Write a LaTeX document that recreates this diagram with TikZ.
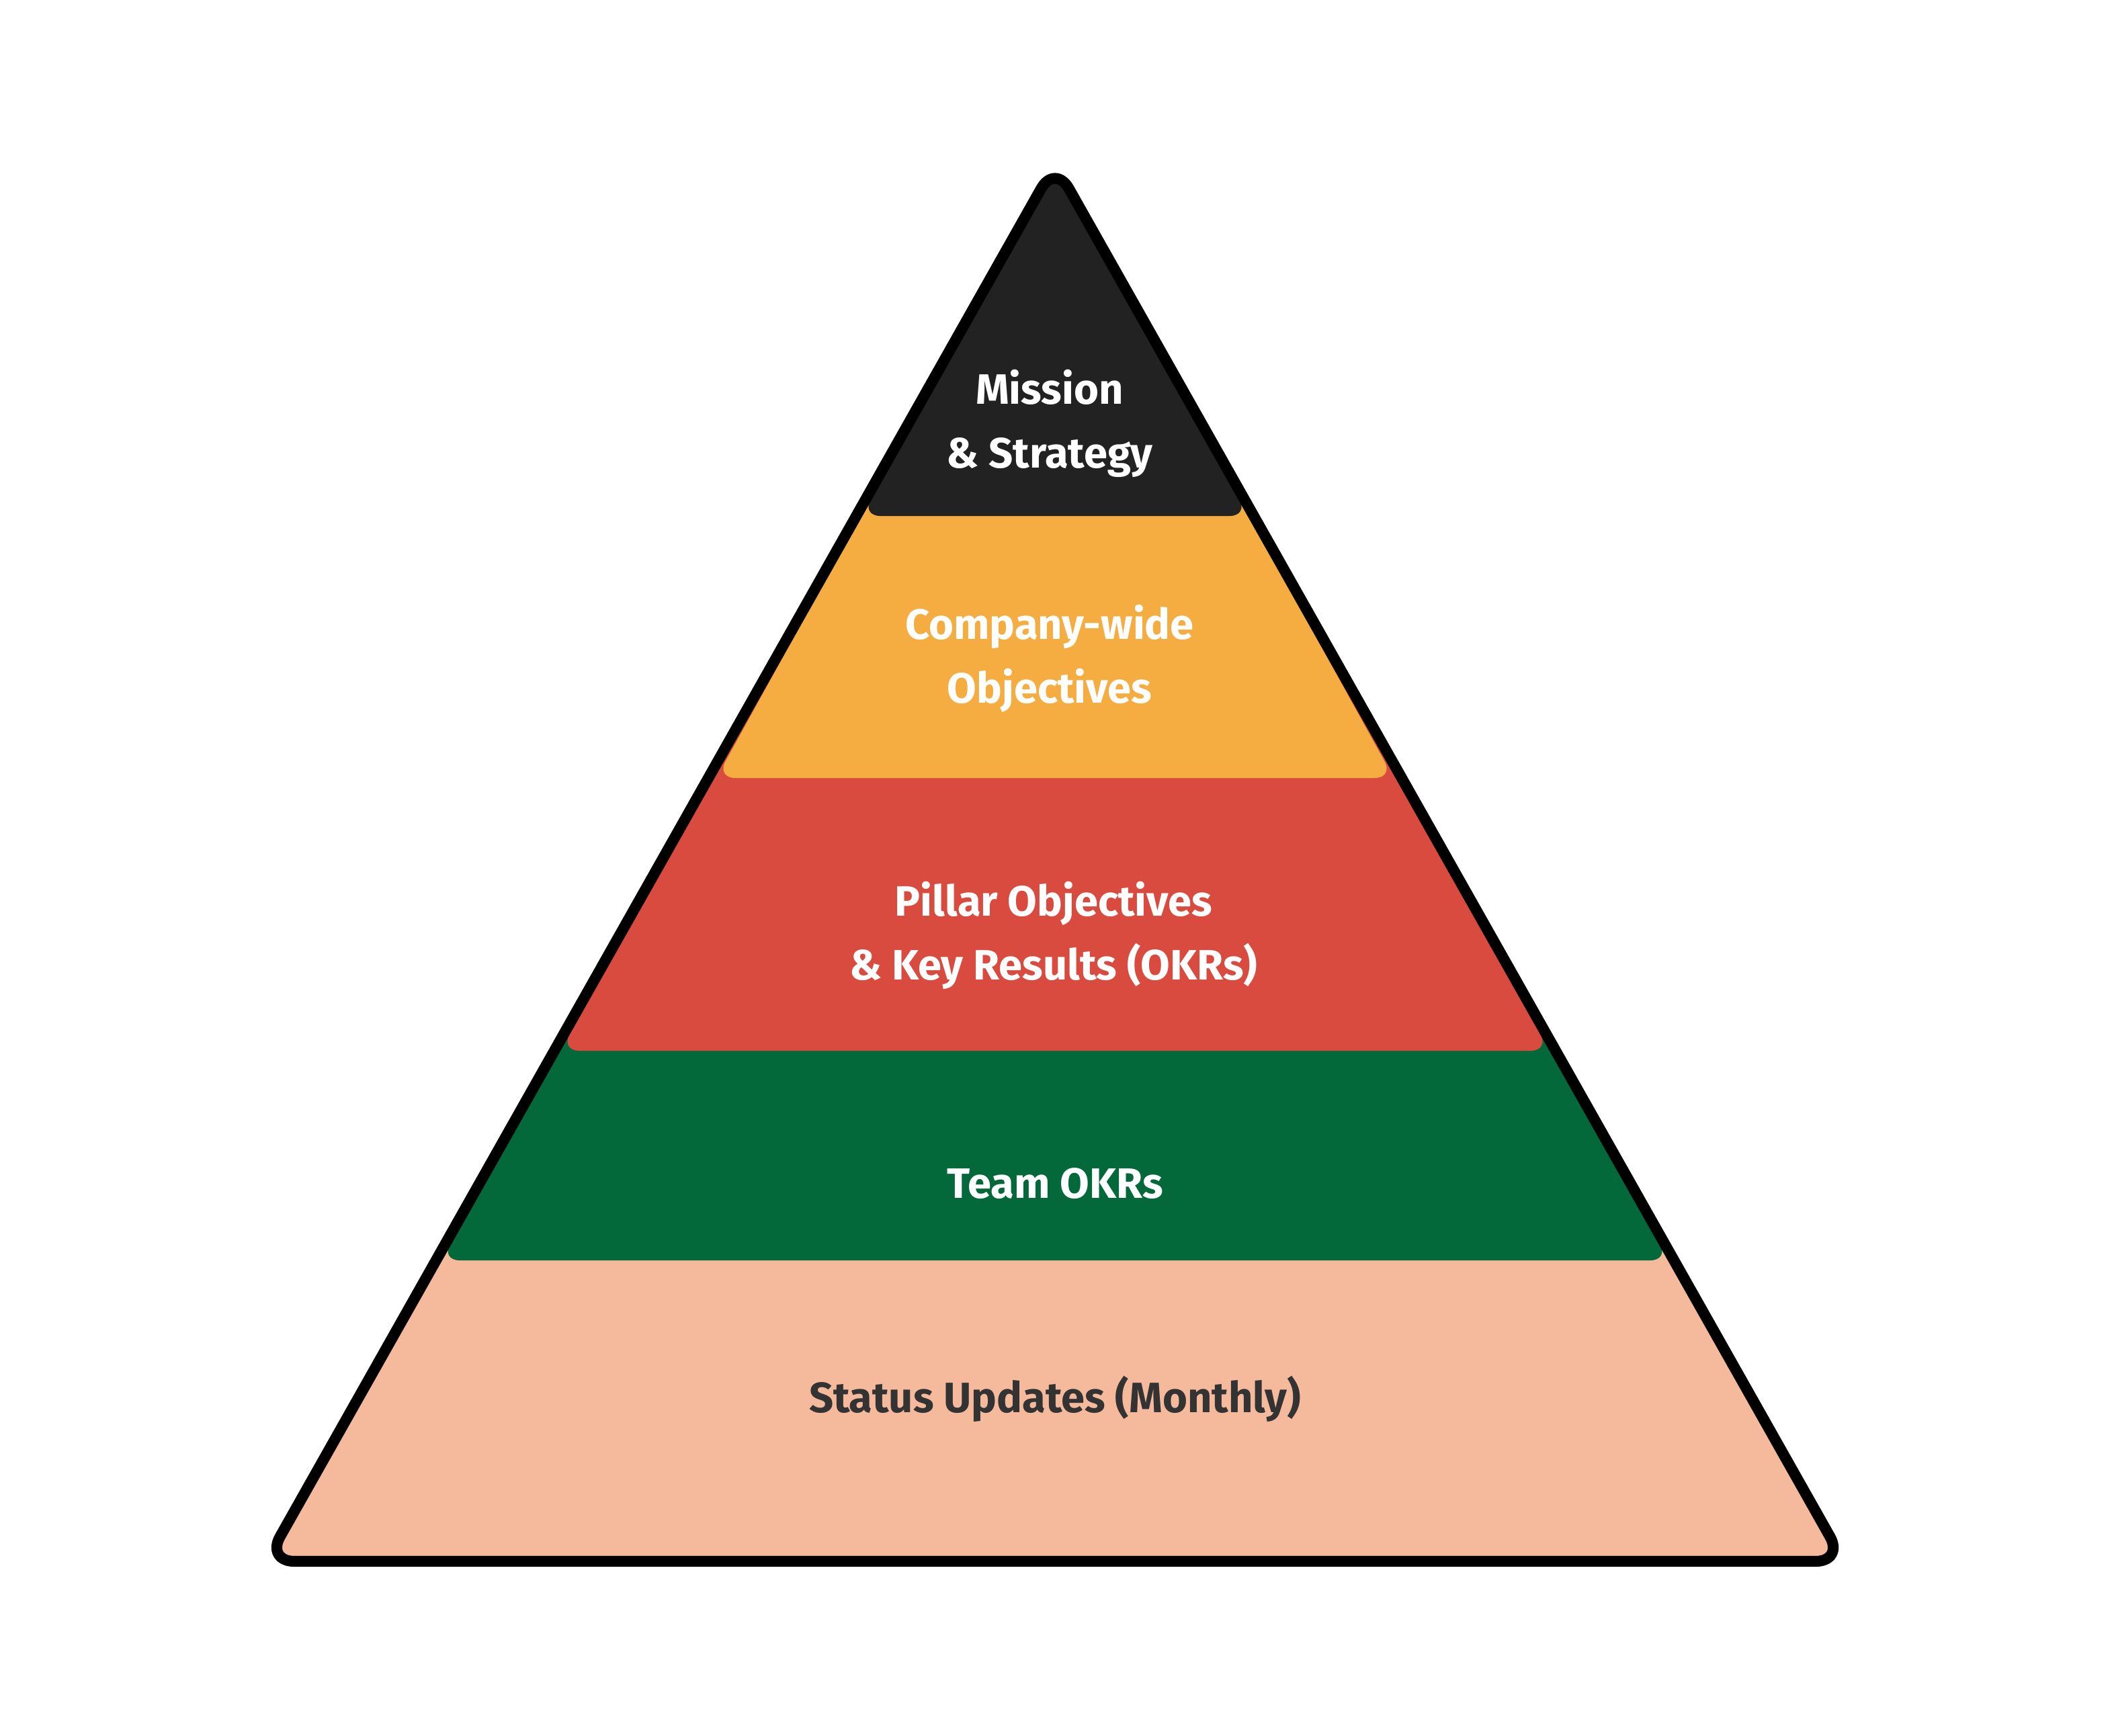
\documentclass[tikz,border=0pt]{standalone}
\usepackage{fontspec}
\setmainfont{Fira Sans}
\definecolor{missionc}{HTML}{222222}
\definecolor{companyc}{HTML}{F5AD42}
\definecolor{pillarc}{HTML}{D94A3F}
\definecolor{teamc}{HTML}{03683A}
\definecolor{statusc}{HTML}{F5B99C}
\definecolor{darktext}{HTML}{333333}
\tikzset{
  label/.style={align=center, font=\bfseries\fontsize{18}{27}\selectfont, text=white},
  band/.style={rounded corners=8pt}
}
\begin{document}
\begin{tikzpicture}[x=0.02cm, y=-0.02cm]
    \useasboundingbox (0,0) rectangle (1570,1292);
    \coordinate (apex) at (785,122);
    % layers, widest first
    \fill[statusc, band] (apex) -- (1372,1162) -- (198,1162) -- cycle;
    \fill[teamc, band] (apex) -- (1242,938) -- (328,938) -- cycle;
    \fill[pillarc, band] (apex) -- (1153,782) -- (417,782) -- cycle;
    \fill[companyc, band] (apex) -- (1037,579) -- (533,579) -- cycle;
    \fill[missionc, band] (apex) -- (929,384) -- (641,384) -- cycle;
    % outline
    \draw[line width=4.6pt, rounded corners=12pt, line join=round]
      (apex) -- (1372,1162) -- (198,1162) -- cycle;
    % labels
    \node[label] (mission) at (781,315) {Mission\\ \& Strategy};
    \node[label] (company) at (781,490) {Company-wide\\ Objectives};
    \node[label] (pillar) at (784,696) {Pillar Objectives\\ \& Key Results (OKRs)};
    \node[label] (team) at (785,881) {Team OKRs};
    \node[label, text=darktext] (status) at (785,1041) {Status Updates (Monthly)};
\end{tikzpicture}
\end{document}
